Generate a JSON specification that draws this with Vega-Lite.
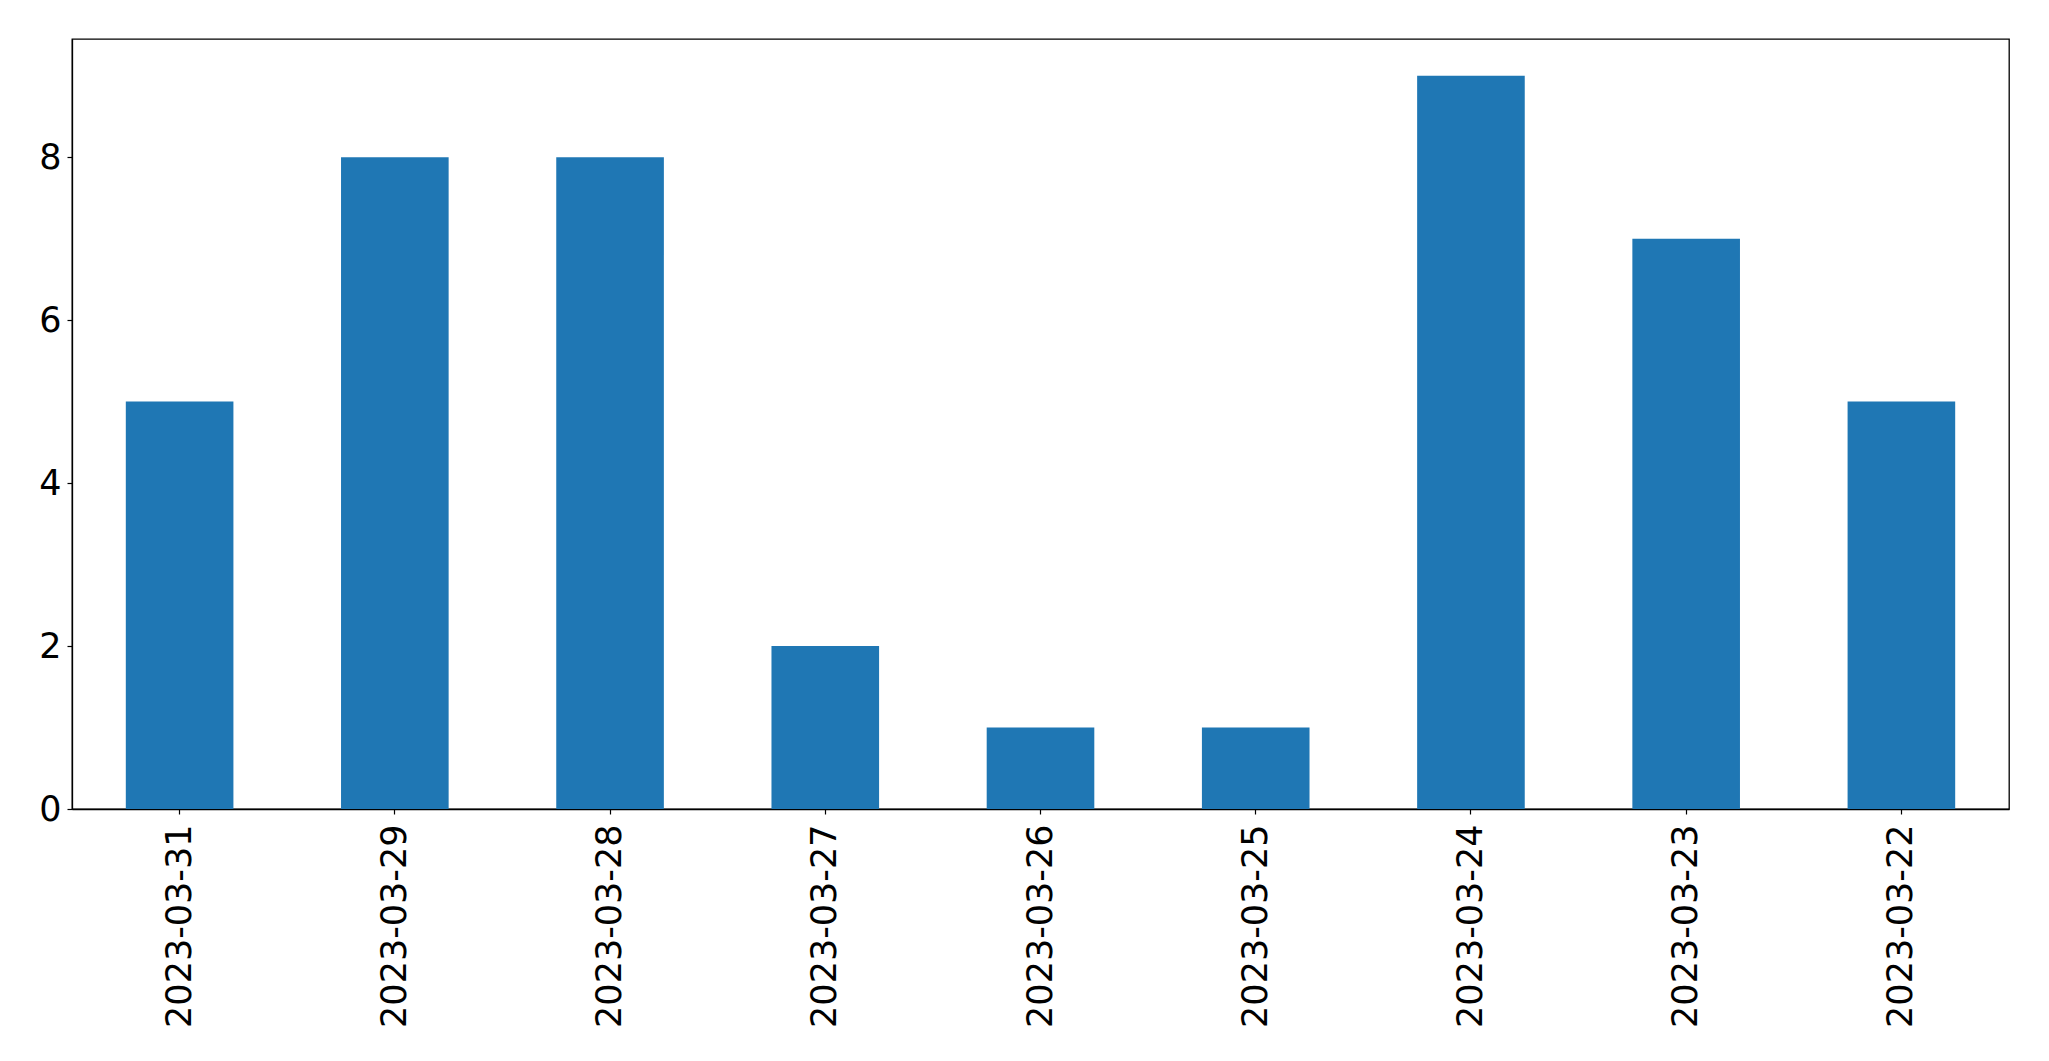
{
  "$schema": "https://vega.github.io/schema/vega-lite/v6.json",
  "autosize": "none",
  "padding": {"left": 72, "top": 39, "right": 40, "bottom": 252},
  "width": 1937,
  "height": 770,
  "background": "white",
  "config": {
    "view": {"stroke": "black", "strokeWidth": 1.3},
    "font": "DejaVu Sans",
    "axis": {
      "domainColor": "black",
      "tickColor": "black",
      "labelColor": "black",
      "labelFont": "DejaVu Sans",
      "labelFontSize": 35,
      "labelLimit": 0,
      "tickSize": 5,
      "tickWidth": 1.2,
      "domainWidth": 1.3,
      "grid": false,
      "title": null
    }
  },
  "data": {
    "values": [
      {"date": "2023-03-31", "count": 5},
      {"date": "2023-03-29", "count": 8},
      {"date": "2023-03-28", "count": 8},
      {"date": "2023-03-27", "count": 2},
      {"date": "2023-03-26", "count": 1},
      {"date": "2023-03-25", "count": 1},
      {"date": "2023-03-24", "count": 9},
      {"date": "2023-03-23", "count": 7},
      {"date": "2023-03-22", "count": 5}
    ]
  },
  "mark": {"type": "bar", "color": "#1f77b4"},
  "encoding": {
    "x": {
      "field": "date",
      "type": "nominal",
      "sort": null,
      "scale": {"paddingInner": 0.5, "paddingOuter": 0.25},
      "axis": {"labelAngle": -90, "labelPadding": 10, "labelBaseline": "middle", "labelAlign": "right"}
    },
    "y": {
      "field": "count",
      "type": "quantitative",
      "scale": {"domain": [0, 9.45], "nice": false, "zero": true},
      "axis": {"values": [0, 2, 4, 6, 8], "labelPadding": 6, "labelBaseline": "middle"}
    }
  }
}
